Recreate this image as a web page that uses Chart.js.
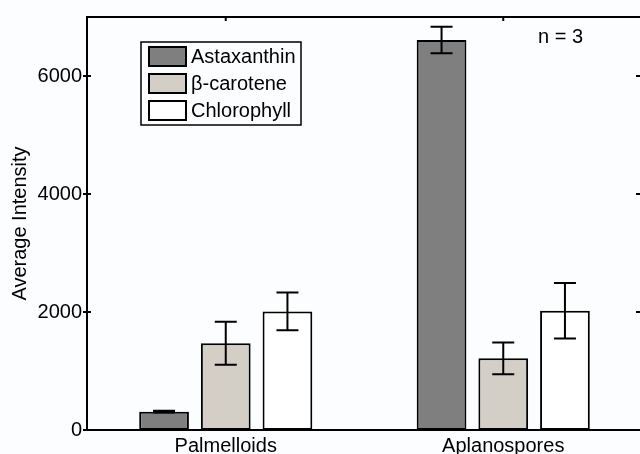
<!DOCTYPE html>
<html>
<head>
<meta charset="utf-8">
<script src="https://cdn.jsdelivr.net/npm/chart.js@4/dist/chart.umd.min.js"></script>
<style>
  html, body { margin: 0; padding: 0; background: #fcfdff; overflow: hidden; }
  #wrap { width: 660px; height: 454px; }
</style>
</head>
<body>
<div id="wrap"><canvas id="c" width="660" height="454"></canvas></div>
<script>
/* ---------- data ---------- */
const categories   = ["Palmelloids", "Aplanospores"];
const seriesNames  = ["Astaxanthin", "\u03B2-carotene", "Chlorophyll"];
const astaxanthin  = [310, 6610];
const betaCarotene = [1470, 1215];
const chlorophyll  = [2010, 2020];
const astaxErr     = [15, 225];
const betaErr      = [365, 270];
const chloroErr    = [320, 470];
const yTicks       = [0, 2000, 4000, 6000];
const sampleNote   = "n = 3";

const FONT = "'Liberation Sans', Arial, Helvetica, sans-serif";
const fills = ["#7f7f7f", "#d3cfc6", "#ffffff"];

/* ---------- error bars ---------- */
const errorBars = {
  id: "errorBars",
  afterDatasetsDraw(chart) {
    const { ctx, scales: { y } } = chart;
    ctx.save();
    ctx.strokeStyle = "#000"; ctx.lineWidth = 2;
    chart.data.datasets.forEach((ds, di) => {
      const meta = chart.getDatasetMeta(di);
      meta.data.forEach((bar, i) => {
        const v = ds.data[i], e = ds.errors[i];
        const top = y.getPixelForValue(v + e), bot = y.getPixelForValue(v - e);
        ctx.beginPath();
        ctx.moveTo(bar.x, top); ctx.lineTo(bar.x, bot);
        ctx.moveTo(bar.x - 11, top); ctx.lineTo(bar.x + 11, top);
        ctx.moveTo(bar.x - 11, bot); ctx.lineTo(bar.x + 11, bot);
        ctx.stroke();
      });
    });
    ctx.restore();
  }
};

/* ---------- frame, ticks, legend, note ---------- */
const frame = {
  id: "frame",
  afterDraw(chart) {
    const { ctx, chartArea: a, scales: { x, y } } = chart;
    ctx.save();
    ctx.strokeStyle = "#000"; ctx.lineWidth = 2;
    ctx.strokeRect(a.left, a.top, a.right - a.left, a.bottom - a.top);
    ctx.beginPath();
    yTicks.forEach(v => {
      const py = y.getPixelForValue(v);
      ctx.moveTo(a.left - 4, py); ctx.lineTo(a.left + 4, py);
      ctx.moveTo(a.right, py); ctx.lineTo(a.right - 6, py);
    });
    categories.forEach((c, i) => {
      const px = x.getPixelForValue(i);
      ctx.moveTo(px, a.top); ctx.lineTo(px, a.top + 4);
    });
    ctx.stroke();

    // legend box
    ctx.lineWidth = 1.5;
    ctx.strokeRect(141, 42, 160, 83);
    ctx.font = "20px " + FONT;
    ctx.textBaseline = "middle"; ctx.textAlign = "left";
    chart.data.datasets.forEach((ds, i) => {
      const ry = 47 + i * 27;
      ctx.fillStyle = ds.backgroundColor;
      ctx.fillRect(149, ry, 37, 19);
      ctx.lineWidth = 2;
      ctx.strokeRect(149, ry, 37, 19);
      ctx.fillStyle = "#000";
      ctx.fillText(ds.label, 191, ry + 10);
    });

    ctx.fillText(sampleNote, 538, 37);
    ctx.restore();
  }
};

const mk = (label, data, errors, color) => ({
  label, data, errors,
  backgroundColor: color, borderColor: "#000", borderWidth: 2, borderSkipped: false,
  categoryPercentage: 0.667, barPercentage: 0.806
});

new Chart(document.getElementById("c"), {
  type: "bar",
  data: {
    labels: categories,
    datasets: [
      mk(seriesNames[0], astaxanthin, astaxErr, fills[0]),
      mk(seriesNames[1], betaCarotene, betaErr, fills[1]),
      mk(seriesNames[2], chlorophyll, chloroErr, fills[2])
    ]
  },
  options: {
    responsive: false,
    animation: false,
    devicePixelRatio: 1,
    layout: { padding: { top: 13, right: 18, left: 0, bottom: 0 } },
    plugins: { legend: { display: false }, tooltip: { enabled: false } },
    scales: {
      x: {
        grid: { display: false, drawTicks: false },
        border: { display: false },
        ticks: { color: "#000", font: { family: FONT, size: 20 }, padding: 4, maxRotation: 0 },
        afterFit(axis) { axis.height = 24; }
      },
      y: {
        min: 0, max: 7000,
        grid: { display: false, drawTicks: false },
        border: { display: false },
        ticks: { color: "#000", font: { family: FONT, size: 20 }, padding: 5,
                 callback: v => String(v) },
        afterBuildTicks(axis) { axis.ticks = yTicks.map(v => ({ value: v })); },
        title: { display: true, text: "Average Intensity", color: "#000",
                 font: { family: FONT, size: 20 }, padding: { top: 8, bottom: 0 } },
        afterFit(axis) { axis.width = 87; }
      }
    }
  },
  plugins: [errorBars, frame]
});
</script>
</body>
</html>
